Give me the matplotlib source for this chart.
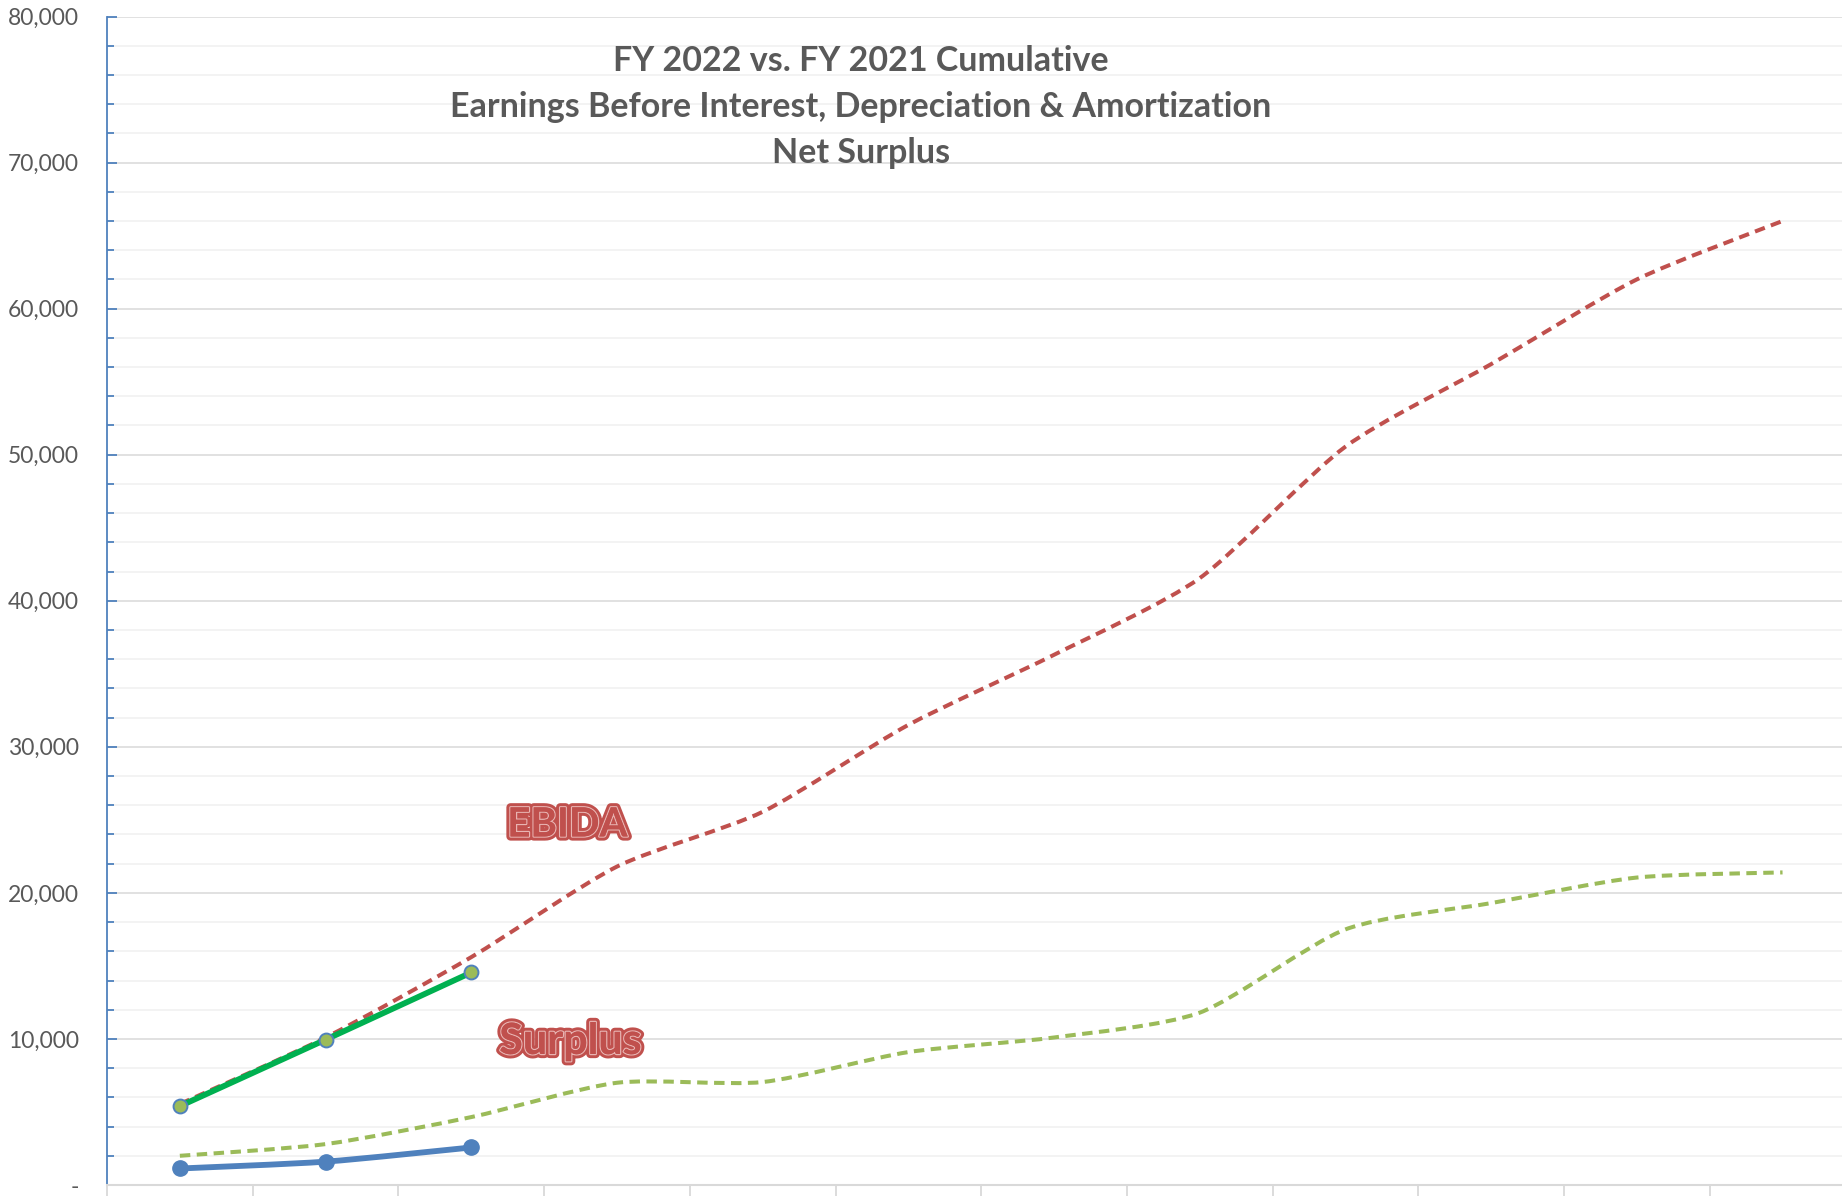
import matplotlib
matplotlib.use("Agg")
import matplotlib.pyplot as plt
import numpy as np
from matplotlib.path import Path
from matplotlib.patches import PathPatch
import matplotlib.patheffects as pe
from matplotlib.ticker import FuncFormatter, MultipleLocator

# ---- data (in $000s) ----
months = ["Jul", "Aug", "Sep", "Oct", "Nov", "Dec", "Jan", "Feb", "Mar", "Apr", "May", "Jun"]
ebida_fy2021 = [5550, 10100, 15600, 21800, 25550, 31500, 36300, 41550, 50550, 56200, 62000, 66000]
surplus_fy2021 = [2000, 2800, 4650, 7000, 7050, 9100, 10100, 11800, 17500, 19300, 21050, 21400]
ebida_fy2022 = [5400, 9950, 14550]
surplus_fy2022 = [1130, 1600, 2570]

title_lines = ["FY 2022 vs. FY 2021 Cumulative",
               "Earnings Before Interest, Depreciation & Amortization",
               "Net Surplus"]

plt.rcParams['font.family'] = ['Lato', 'DejaVu Sans']

fig = plt.figure(figsize=(18.42, 11.96), dpi=100)
fig.patch.set_facecolor('white')
left = 107 / 1842
bottom = (1196 - 1185) / 1196
top = (1196 - 16.5) / 1196
width = 12 * 145.7 / 1842
ax = fig.add_axes([left, bottom, width, top - bottom])
ax.set_xlim(-0.5, 11.5)
ax.set_ylim(0, 80000)


def smooth_path(xs, ys, k=0.12):
    """Excel-style smoothed line as cubic Bezier path."""
    pts = np.column_stack([xs, ys]).astype(float)
    n = len(pts)
    verts = [pts[0]]
    codes = [Path.MOVETO]
    for i in range(n - 1):
        p0 = pts[i - 1] if i > 0 else pts[i]
        p1 = pts[i]
        p2 = pts[i + 1]
        p3 = pts[i + 2] if i + 2 < n else pts[i + 1]
        c1 = p1 + (p2 - p0) * k
        c2 = p2 - (p3 - p1) * k
        verts += [c1, c2, p2]
        codes += [Path.CURVE4] * 3
    return Path(verts, codes)


def add_curve(vals, color, lw, ls, z):
    xs = np.arange(len(vals))
    patch = PathPatch(smooth_path(xs, vals), facecolor='none', edgecolor=color,
                      lw=lw, linestyle=ls, capstyle='butt', joinstyle='round', zorder=z)
    ax.add_patch(patch)


add_curve(surplus_fy2021, '#9BBB59', 2.9, (0, (2.6, 1.6)), 3)
add_curve(ebida_fy2021, '#C0504D', 2.9, (0, (2.6, 1.6)), 4)
add_curve(surplus_fy2022, '#4F81BD', 4.2, '-', 5)
add_curve(ebida_fy2022, '#00B050', 4.2, '-', 5)

ax.plot(np.arange(len(surplus_fy2022)), surplus_fy2022, ls='none', marker='o',
        ms=11, mfc='#4F81BD', mec='#4F81BD', zorder=6)
ax.plot(np.arange(len(ebida_fy2022)), ebida_fy2022, ls='none', marker='o',
        ms=10, mfc='#9BBB59', mec='#4F81BD', mew=1.4, zorder=6)

# grid
ax.yaxis.set_major_locator(MultipleLocator(10000))
ax.yaxis.set_minor_locator(MultipleLocator(2000))
ax.grid(which='major', axis='y', color='#D9D9D9', lw=1.1, zorder=0)
ax.grid(which='minor', axis='y', color='#F0F0F0', lw=1.1, zorder=0)
ax.set_axisbelow(True)

ax.yaxis.set_major_formatter(FuncFormatter(lambda v, p: '-' if v == 0 else f"{int(v):,}"))
ax.tick_params(axis='y', which='major', direction='in', length=7, width=1.3,
               color='#4F81BD', labelsize=16.5, labelcolor='#595959', pad=20)
ax.tick_params(axis='y', which='minor', direction='in', length=5, width=1.3, color='#4F81BD')

ax.set_xticks(np.arange(-0.5, 12, 1))
ax.set_xticklabels([])
ax.tick_params(axis='x', which='major', direction='out', length=12, width=1.3, color='#D9D9D9')

for s in ['top', 'right']:
    ax.spines[s].set_visible(False)
ax.spines['left'].set_color('#4F81BD')
ax.spines['left'].set_linewidth(1.3)
ax.spines['bottom'].set_color('#D9D9D9')
ax.spines['bottom'].set_linewidth(1.5)

# title
fig.text(861 / 1842, (1196 - 107) / 1196, "\n".join(title_lines), ha='center', va='center',
         fontsize=24.5, fontweight='bold', color='#595959', linespacing=1.55)

# series labels
label_fx = [pe.withStroke(linewidth=6, foreground='#C0504D'),
            pe.withStroke(linewidth=1.8, foreground='#E8B4B2'),
            pe.Normal()]
ax.text(2.66, 24650, "EBIDA", ha='center', va='center', fontsize=29, fontweight='bold',
        color='#C0504D', path_effects=label_fx, zorder=7)
ax.text(2.68, 9860, "Surplus", ha='center', va='center', fontsize=31, fontweight='bold',
        color='#C0504D', path_effects=label_fx, zorder=7)

fig.savefig("out.png", dpi=100, facecolor='white')
